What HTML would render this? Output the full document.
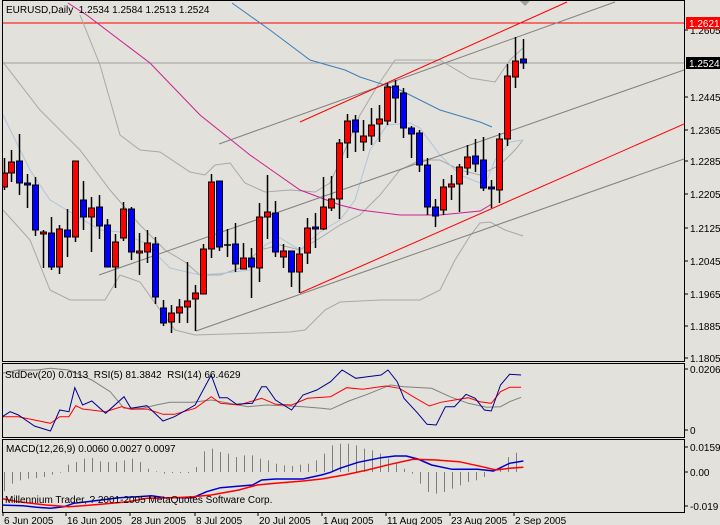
<!DOCTYPE html>
<html><head><meta charset="utf-8"><style>
html,body{margin:0;padding:0;background:#fff;}
svg{display:block;font-family:"Liberation Sans",sans-serif;}
</style></head><body>
<svg id="s" width="720" height="525" viewBox="0 0 720 525" xmlns="http://www.w3.org/2000/svg">
<rect width="720" height="525" fill="#e2e1dc"/>
</svg>
<script>
const S=document.getElementById('s');let h='';
function pl(pts,c,w){return '<polyline fill="none" stroke="'+c+'" stroke-width="'+(w||1)+'" points="'+pts.map(p=>p.join(',')).join(' ')+'"/>';}
function ln(a,b,c,d,col,w){return '<line x1="'+a+'" y1="'+b+'" x2="'+c+'" y2="'+d+'" stroke="'+col+'" stroke-width="'+(w||1)+'"/>';}
function tx(x,y,t,c,a){return '<text x="'+x+'" y="'+y+'" font-size="10" fill="'+(c||'#000')+'"'+(a?' text-anchor="'+a+'"':'')+'>'+t+'</text>';}
h+='<defs><clipPath id="cm"><rect x="3" y="1" width="681" height="360"/></clipPath><clipPath id="cs"><rect x="3" y="363" width="681" height="74"/></clipPath><clipPath id="cc"><rect x="3" y="439" width="681" height="73"/></clipPath></defs>';
h+='<g clip-path="url(#cm)">';
h+=ln(0,23,684,23,'#ff0000');h+=ln(0,63,684,63,'#a0a0a0');
h+=pl([[3,62],[40,110],[80,150],[110,190],[140,225],[165,250],[185,262],[200,275],[220,275],[240,268],[260,250],[280,245],[300,250],[320,238],[340,225],[360,215],[380,195],[400,170],[420,160],[440,160],[460,170],[480,175],[500,165],[515,150],[523,140]],'#a8a8a8');
h+=pl([[80,15],[100,65],[120,135],[140,150],[160,152],[190,172],[205,175],[215,165],[230,163],[245,183],[265,192],[290,190],[315,192],[330,183],[345,150],[360,115],[378,85],[395,60],[440,60],[470,78],[495,82],[510,60],[523,48]],'#a8a8a8');
h+=pl([[3,115],[30,170],[50,200],[70,212],[100,230],[120,232],[145,243],[170,268],[200,275],[225,273],[250,270],[265,245],[280,238],[300,250],[320,232],[340,220],[355,200],[370,150],[387,125],[410,123],[420,128],[440,155],[460,175],[485,185],[495,160],[510,142],[523,140]],'#b0c4de');
h+=pl([[3,210],[30,240],[50,290],[70,300],[105,300],[120,275],[140,282],[160,310],[175,330],[195,335],[290,332],[305,330],[325,310],[340,302],[380,300],[420,300],[440,290],[455,260],[470,236],[480,223],[490,222],[505,230],[523,236]],'#a8a8a8');
h+=pl([[68,3],[88,16],[150,63],[200,115],[250,155],[300,190],[340,205],[360,210],[400,215],[440,215],[480,211],[492,204]],'#cc1f8f');
h+=pl([[232,3],[270,30],[310,60],[345,70],[360,77],[400,90],[440,110],[480,122],[492,127]],'#3c7fb8');
h+=ln(219,144,615,2,'#808080');h+=ln(99,275,684,70,'#808080');h+=ln(196,331,684,159,'#808080');
h+=ln(300,122,567,2,'#ff0000');h+=ln(300,293,684,124,'#ff0000');
const C=[[4,158,190,173,187,'r'],[11,150,182,162,173,'r'],[19,134,195,161,183,'b'],[27,174,208,183,185,'b'],[35,177,236,185,230,'b'],[43,230,268,232,234,'r'],[51,217,270,233,267,'b'],[59,225,274,229,267,'r'],[67,209,257,230,237,'b'],[75,161,242,161,237,'r'],[83,181,230,200,217,'b'],[91,197,252,208,217,'r'],[99,195,239,207,226,'b'],[107,219,267,225,267,'b'],[115,234,288,242,267,'r'],[123,202,241,209,238,'r'],[131,207,260,209,252,'b'],[139,233,275,251,253,'r'],[147,230,263,243,252,'r'],[155,237,304,244,297,'b'],[163,300,326,308,323,'b'],[171,305,333,313,322,'r'],[179,299,323,307,313,'r'],[187,262,323,301,307,'r'],[195,285,331,293,299,'r'],[203,244,294,249,294,'r'],[211,174,258,182,249,'r'],[219,181,251,181,247,'b'],[227,229,257,245,245,'k'],[235,223,272,244,264,'b'],[243,243,269,258,269,'r'],[251,248,298,258,267,'b'],[259,203,282,217,268,'r'],[267,175,239,212,217,'r'],[275,201,257,213,252,'b'],[283,244,268,251,257,'r'],[291,251,287,251,272,'b'],[299,247,293,254,272,'r'],[307,218,264,228,253,'r'],[315,213,248,227,229,'b'],[323,177,230,207,229,'r'],[331,176,211,199,208,'r'],[339,139,219,143,199,'r'],[347,114,158,121,143,'r'],[355,115,152,120,132,'b'],[363,120,151,136,142,'r'],[371,108,145,125,136,'r'],[379,105,142,119,124,'r'],[387,83,125,87,121,'r'],[395,80,123,86,98,'b'],[403,88,138,93,128,'b'],[411,126,158,128,134,'b'],[419,130,172,133,165,'b'],[427,158,215,165,207,'b'],[435,199,227,207,216,'b'],[443,179,215,187,210,'r'],[451,175,200,184,187,'r'],[459,164,212,167,184,'r'],[467,145,175,157,168,'r'],[475,139,172,156,164,'b'],[483,137,191,160,188,'b'],[491,180,208,187,189,'b'],[499,133,203,139,190,'r'],[507,64,146,76,139,'r'],[515,37,88,61,77,'r'],[523,39,69,59,63,'b']];
C.forEach(c=>{h+=ln(c[0]+.5,c[1],c[0]+.5,c[2],'#000',1.5);
 if(c[5]=='k'){h+=ln(c[0]-3,c[3],c[0]+4,c[3],'#000',1.5);}
 else h+='<rect x="'+(c[0]-2.5)+'" y="'+c[3]+'" width="6" height="'+Math.max(2,c[4]-c[3])+'" fill="'+(c[5]=='r'?'#ff0000':'#0000ff')+'" stroke="#000" stroke-width="1"/>';});
h+='<polygon points="520,1 530,1 525,6" fill="#a0a0a0"/>';
h+='</g>';
h+=tx(6,13,'EURUSD,Daily&#160;&#160;1.2534 1.2584 1.2513 1.2524');
h+='<rect x="2.5" y="0.5" width="682" height="361" fill="none" stroke="#000"/>';
h+='<rect x="2.5" y="363.5" width="682" height="74" fill="none" stroke="#000"/>';
h+='<rect x="2.5" y="439.5" width="682" height="73" fill="none" stroke="#000"/>';
const P=[['1.2605',30],['1.2445',97],['1.2365',130],['1.2285',161],['1.2205',194],['1.2125',228],['1.2045',261],['1.1965',294],['1.1885',326],['1.1805',358]];
P.forEach(p=>{h+=ln(684,p[1],688,p[1],'#000');h+=tx(690,p[1]+4,p[0]);});
h+='<rect x="686" y="17" width="34" height="12" fill="#ff0000"/>'+tx(689,27,'1.2621','#fff');
h+='<rect x="686" y="57" width="34" height="12" fill="#000"/>'+tx(689,67,'1.2524','#fff');
const sx=v=>(v/2.178).toFixed(1), sy=v=>(v/3+355).toFixed(1);
const cv=a=>a.map(p=>[sx(p[0]),sy(p[1])]);
h+='<g clip-path="url(#cs)">';
h+=pl(cv([[5,55],[40,45],[80,45],[110,40],[150,45],[200,75],[240,110],[270,160],[310,160],[340,150],[370,142],[420,142],[460,135],[500,145],[540,155],[580,150],[620,152],[660,155],[700,160],[720,163],[760,138],[800,118],[850,90],[880,95],[940,100],[980,125],[1020,145],[1060,157],[1090,155],[1110,140],[1135,127]]),'#808080');
h+=pl(cv([[5,185],[40,185],[75,195],[110,205],[130,185],[150,185],[165,152],[180,162],[230,170],[265,155],[285,163],[320,162],[355,178],[380,178],[425,160],[460,125],[480,145],[520,150],[570,130],[600,148],[635,150],[670,130],[720,125],[755,98],[790,103],[840,93],[870,100],[900,125],[935,153],[960,142],[990,135],[1020,128],[1045,140],[1070,145],[1090,110],[1110,97],[1135,97]]),'#ff0000');
h+=pl(cv([[5,185],[22,170],[40,180],[75,213],[110,228],[130,165],[150,170],[163,98],[180,150],[200,138],[230,175],[270,125],[285,160],[320,152],[355,198],[380,185],[425,150],[460,60],[478,128],[495,128],[515,148],[550,145],[570,95],[580,95],[600,135],[635,165],[660,120],[690,105],[720,80],[745,45],[775,70],[800,65],[830,60],[845,45],[865,80],[880,130],[910,175],[930,208],[950,210],[970,155],[990,155],[1015,118],[1035,130],[1055,165],[1070,168],[1090,90],[1110,58],[1135,60]]),'#00008b');
h+='</g>';
h+=tx(5,378,'StdDev(20) 0.0113&#160;&#160;RSI(5) 81.3842&#160;&#160;RSI(14) 66.4629');
h+=ln(684,369,688,369,'#000')+tx(690,373,'0.0206');h+=ln(684,430,688,430,'#000')+tx(690,434,'0');
const HV=[-58,-35,-25,-20,-18,-15,-8,-2,22,30,40,42,32,30,30,35,40,30,10,2,-5,-3,-3,-3,15,62,70,60,55,45,50,50,40,35,25,20,18,22,25,35,55,80,85,85,80,70,65,55,40,25,10,-5,-35,-60,-65,-60,-50,-40,-30,-25,-15,5,15,45,58];
h+='<g clip-path="url(#cc)">';
HV.forEach((v,i)=>{const x=4.5+8*i;h+=ln(x,472,x,472-v/3,'#808080');});
h+=pl(cv([[0,450],[50,452],[80,457],[110,460],[140,455],[160,445],[190,440],[220,435],[260,428],[300,425],[330,422],[360,428],[420,428],[450,410],[480,398],[550,390],[570,375],[600,372],[660,372],[700,360],[720,352],[740,340],[780,322],[830,308],[860,303],[885,303],[910,312],[940,330],[985,343],[1040,343],[1075,348],[1110,325],[1140,318]]),'#0000cd',1.5);
h+=pl(cv([[0,430],[40,440],[100,450],[150,455],[180,452],[220,448],[280,440],[320,430],[380,428],[420,425],[460,420],[520,405],[560,390],[600,385],[660,378],[700,372],[750,360],[800,345],[850,328],[900,313],[950,315],[1000,320],[1050,335],[1080,345],[1110,340],[1140,337]]),'#ff0000',1.5);
h+='</g>';
h+=tx(6,452,'MACD(12,26,9) 0.0060 0.0027 0.0097');
h+=tx(5,503,'Millennium Trader, ? 2001-2005 MetaQuotes Software Corp.');
h+=ln(684,447,688,447,'#000')+tx(690,451,'0.0159');h+=ln(684,472,688,472,'#000')+tx(690,476,'0.00');h+=ln(684,506,688,506,'#000')+tx(690,510,'-0.019');
[['6 Jun 2005',3],['16 Jun 2005',66],['28 Jun 2005',130],['8 Jul 2005',195],['20 Jul 2005',258],['1 Aug 2005',322],['11 Aug 2005',386],['23 Aug 2005',450],['2 Sep 2005',514]].forEach(d=>{h+=ln(d[1],512,d[1],516,'#000');h+=tx(d[1]+1,524,d[0]);});
S.innerHTML+=h;
</script>
</body></html>
